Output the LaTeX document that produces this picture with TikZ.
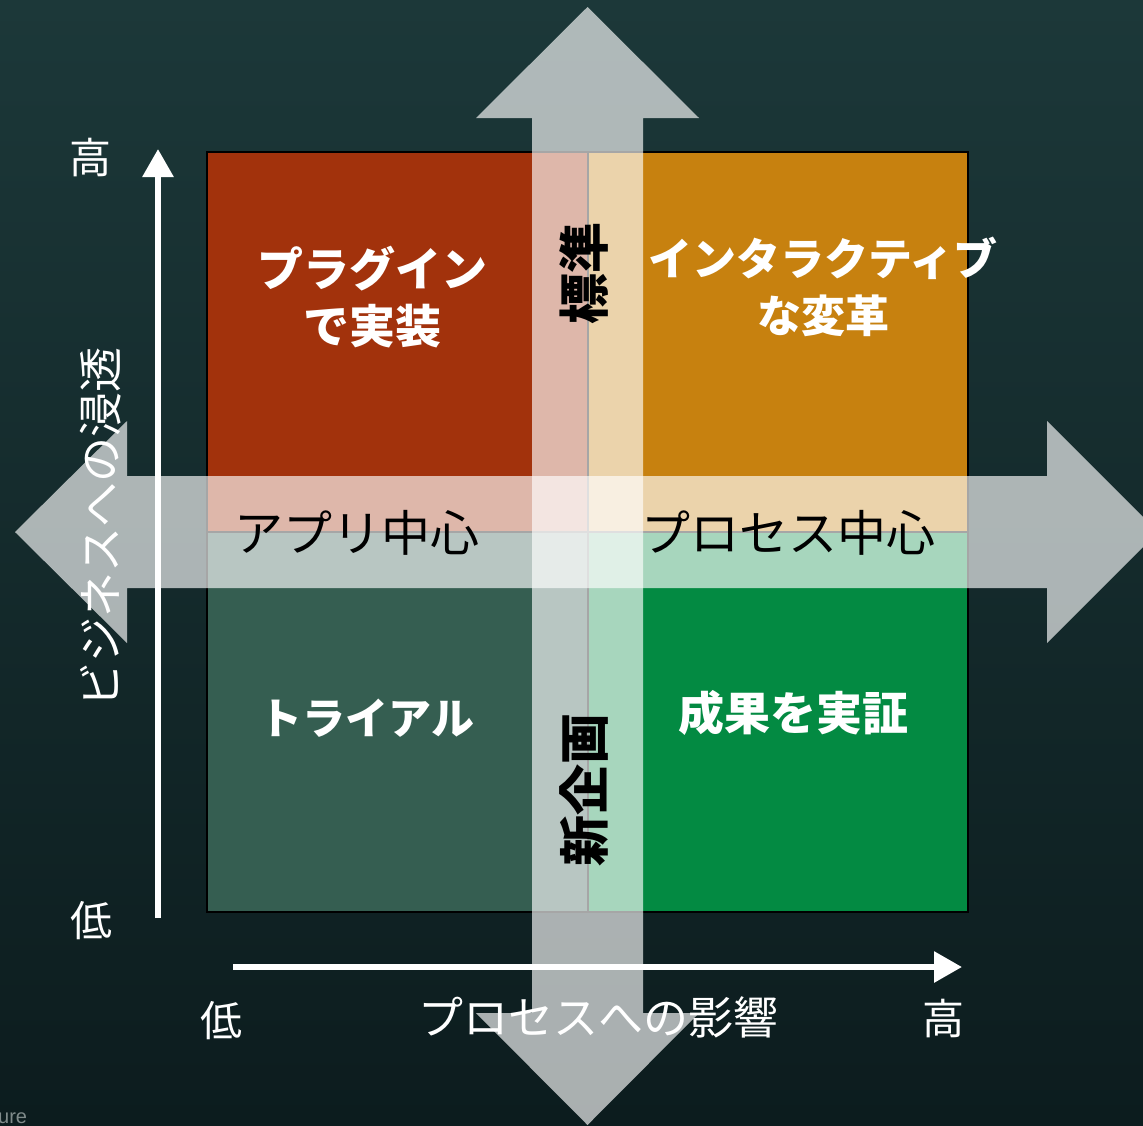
\documentclass[tikz,border=0pt]{standalone}
\usepackage{fontspec}
\newfontfamily\jp{Noto Sans CJK JP}
\newfontfamily\lsans{Liberation Sans}
\usetikzlibrary{arrows.meta}
\definecolor{bgtop}{HTML}{1C3839}
\definecolor{bgbot}{HTML}{0C1C1E}
\definecolor{qtl}{HTML}{A2320C}
\definecolor{qtr}{HTML}{C7810F}
\definecolor{qbl}{HTML}{355E51}
\definecolor{qbr}{HTML}{038A42}
\definecolor{creditgray}{HTML}{7F8A8A}
\begin{document}
\begin{tikzpicture}[x=1pt,y=-1pt,
  quad/.style={draw=black,line width=1.5pt},
  bigarrow/.style={fill=white,fill opacity=0.65},
  axisline/.style={draw=white,line width=6pt,-{Triangle[length=28pt,width=30pt]}},
  qlabel/.style={text=white,font=\jp\bfseries\fontsize{46}{57}\selectfont,align=center,inner sep=0pt},
  mlabel/.style={text=black,font=\jp\fontsize{49}{55}\selectfont,inner sep=0pt},
  vlabel/.style={text=black,font=\jp\bfseries\fontsize{51}{55}\selectfont,inner sep=0pt,rotate=90},
  alabel/.style={text=white,font=\jp\fontsize{45}{50}\selectfont,inner sep=0pt},
  hl/.style={text=white,font=\jp\fontsize{42}{46}\selectfont,inner sep=0pt}]
\useasboundingbox (0,0) rectangle (1143,1125);
\clip (0,0) rectangle (1143,1125);
% background
\shade[top color=bgtop,bottom color=bgbot] (0,0) rectangle (1143,1125);
% quadrants
\fill[qtl] (207,152) rectangle (588,532);
\fill[qtr] (588,152) rectangle (968,532);
\fill[qbl] (207,532) rectangle (588,912);
\fill[qbr] (588,532) rectangle (968,912);
\draw[quad] (207,152) rectangle (968,912);
\draw[quad] (588,152) -- (588,912);
\draw[quad] (207,532) -- (968,532);
% big translucent arrows
\fill[bigarrow] (587.5,7) -- (699,118) -- (643,118) -- (643,1013) -- (699,1013)
  -- (587.5,1125) -- (476,1013) -- (532,1013) -- (532,118) -- (476,118) -- cycle;
\fill[bigarrow] (15,532) -- (127,421) -- (127,476) -- (1047,476) -- (1047,421)
  -- (1158,532) -- (1047,643) -- (1047,588) -- (127,588) -- (127,643) -- cycle;
% axes
\coordinate (ybot) at (158,918);
\coordinate (ytop) at (158,149);
\coordinate (xleft) at (233,967);
\coordinate (xright) at (962,967);
\draw[axisline] (ybot) -- (ytop);
\draw[axisline] (xleft) -- (xright);
% quadrant labels
\node[qlabel] (plug) at (372,297) {プラグイン\\で実装};
\node[qlabel,font=\jp\bfseries\fontsize{44}{57}\selectfont] (inter) at (823,287) {インタラクティブ\\な変革};
\node[qlabel,font=\jp\bfseries\fontsize{43}{57}\selectfont] (trial) at (367,718) {トライアル};
\node[qlabel] (seika) at (793,713) {成果を実証};
\node[mlabel] (app) at (357,533) {アプリ中心};
\node[mlabel] (proc) at (788,533) {プロセス中心};
\node[vlabel] (std) at (584,273) {標準};
\node[vlabel] (newp) at (584,790) {新企画};
% axis labels
\node[alabel,rotate=90] (ylab) at (101,527) {ビジネスへの浸透};
\node[alabel] (xlab) at (598,1017) {プロセスへの影響};
\node[hl] (yhigh) at (90,158) {高};
\node[hl] (ylow) at (91,921) {低};
\node[hl] (xlow) at (221,1021) {低};
\node[hl] (xhigh) at (943,1019) {高};
\node[text=creditgray,font=\lsans\fontsize{20}{22}\selectfont,inner sep=0pt,anchor=base west] (credit) at (-2,1123) {ure};
\end{tikzpicture}
\end{document}
